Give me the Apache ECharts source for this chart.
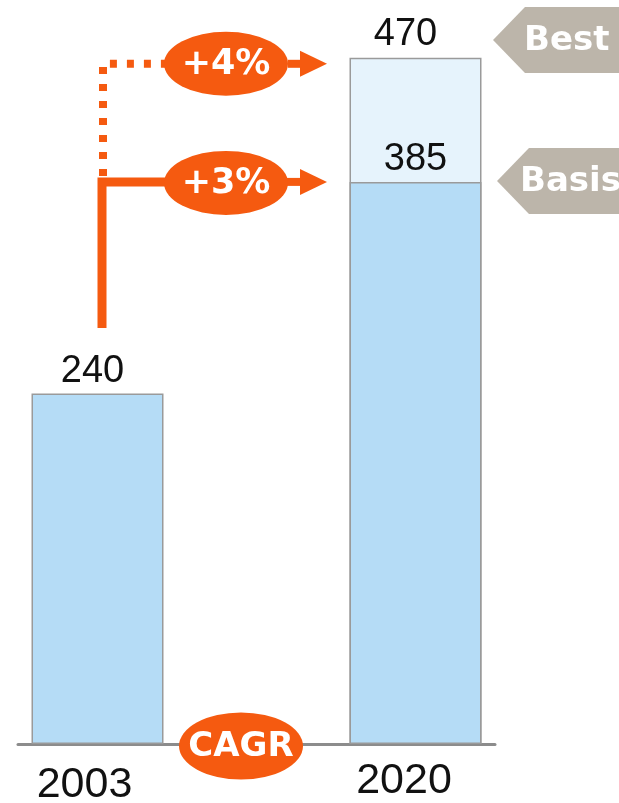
<!DOCTYPE html>
<html>
<head>
<meta charset="utf-8">
<title>CAGR 2003–2020</title>
<script src="https://cdn.jsdelivr.net/npm/echarts@6/dist/echarts.min.js"></script>
<style>
  html, body { margin: 0; padding: 0; background: #ffffff; }
  #chart { width: 619px; height: 803px; }
</style>
</head>
<body>
<div id="chart"></div>
<script>
// Years on the axis; the empty middle slot keeps the bars apart
const categories = ['2003', '', '2020'];
// Basis scenario values
const basisValues = [240, '-', 385];
// Best-case total
const bestValues = ['-', '-', 470];
// Growth rates (CAGR) shown in the arrows
const growthLabels = ['+4%', '+3%'];
const scenarioTags = ['Best', 'Basis'];

const ORANGE = '#f55a10';
const TAG = '#bcb5aa';
const NUM_FONT = 'Liberation Sans';
const BOLD_FONT = 'DejaVu Sans';

const chart = echarts.init(document.getElementById('chart'), null, { renderer: 'canvas' });

chart.setOption({
  animation: false,
  backgroundColor: '#ffffff',
  grid: { left: 18, right: 124, top: 14, bottom: 59, containLabel: false, outerBoundsMode: 'none' },
  xAxis: {
    type: 'category',
    data: categories,
    axisLine: { show: true, lineStyle: { color: '#8c8c8c', width: 3 } },
    axisTick: { show: false },
    axisLabel: {
      margin: 10,
      interval: 0,
      formatter: v => v === '2003' ? '{lo|' + v + '}' : (v ? '{hi|' + v + '}' : ''),
      rich: {
        lo: { fontFamily: NUM_FONT, fontSize: 43, color: '#111', padding: [10, 26, 0, 0] },
        hi: { fontFamily: NUM_FONT, fontSize: 43, color: '#111', padding: [6, 23, 0, 0] }
      }
    }
  },
  yAxis: { type: 'value', min: 0, max: 500, show: false, splitLine: { show: false } },
  series: [
    {
      name: 'Best',
      type: 'bar',
      data: bestValues,
      barWidth: 132,
      barGap: '-100%',
      itemStyle: { color: '#e6f3fc', borderColor: '#9a9a9a', borderWidth: 1.5 },
      label: {
        show: true, position: 'top', distance: 4, offset: [-10, 0],
        fontFamily: NUM_FONT, fontSize: 38, color: '#111'
      }
    },
    {
      name: 'Basis',
      type: 'bar',
      data: basisValues,
      barWidth: 132,
      barGap: '-100%',
      itemStyle: { color: '#b5dcf6', borderColor: '#9a9a9a', borderWidth: 1.5 },
      label: {
        show: true, position: 'top', distance: 3,
        fontFamily: NUM_FONT, fontSize: 38, color: '#111',
        formatter: p => String(p.value)
      },
      labelLayout: p => p.dataIndex === 0 ? { dx: -5 } : {}
    }
  ]
});

// Annotation layer: growth arrows, CAGR badge and scenario tags
const yBasis = chart.convertToPixel({ yAxisIndex: 0 }, 385);
const yBest = chart.convertToPixel({ yAxisIndex: 0 }, 470) + 6;
const yAxisLine = chart.convertToPixel({ yAxisIndex: 0 }, 0);

function ellipse(cx, cy, rx, ry, text, size, z) {
  return [
    {
      type: 'circle', x: cx, y: cy, scaleY: ry / rx, z: z,
      shape: { cx: 0, cy: 0, r: rx },
      style: { fill: ORANGE }
    },
    {
      type: 'text', x: cx, y: cy + 1, z: z + 1,
      style: {
        text: text, fill: '#fff', font: 'bold ' + size + 'px "' + BOLD_FONT + '"',
        align: 'center', verticalAlign: 'middle'
      }
    }
  ];
}

function arrowHead(x, y) {
  return {
    type: 'polygon', z: 20,
    shape: { points: [[x, y - 13], [x + 27, y], [x, y + 13]] },
    style: { fill: ORANGE }
  };
}

function tag(xTip, yc, text, tx) {
  return [
    {
      type: 'polygon', z: 20,
      shape: { points: [[xTip, yc], [xTip + 32, yc - 33], [640, yc - 33], [640, yc + 33], [xTip + 32, yc + 33]] },
      style: { fill: TAG }
    },
    {
      type: 'text', x: tx, y: yc + 1, z: 21,
      style: {
        text: text, fill: '#fff', font: 'bold 34px "' + BOLD_FONT + '"',
        align: 'left', verticalAlign: 'middle'
      }
    }
  ];
}

const graphics = [
  // dotted path to the best-case level
  {
    type: 'polyline', z: 10,
    shape: { points: [[103, yBasis - 6], [103, yBest], [170, yBest]] },
    style: { stroke: ORANGE, lineWidth: 8, lineDash: [7, 10], lineCap: 'butt', lineJoin: 'miter', fill: null }
  },
  {
    type: 'line', z: 10,
    shape: { x1: 288, y1: yBest, x2: 301, y2: yBest },
    style: { stroke: ORANGE, lineWidth: 8 }
  },
  arrowHead(300, yBest),
  // solid path to the basis level
  {
    type: 'polyline', z: 10,
    shape: { points: [[102, 328], [102, yBasis], [170, yBasis]] },
    style: { stroke: ORANGE, lineWidth: 9, lineJoin: 'miter', fill: null }
  },
  {
    type: 'line', z: 10,
    shape: { x1: 285, y1: yBasis, x2: 301, y2: yBasis },
    style: { stroke: ORANGE, lineWidth: 8 }
  },
  arrowHead(300, yBasis),
  ...ellipse(226, yBest, 62, 32, growthLabels[0], 35, 15),
  ...ellipse(226, yBasis + 1, 62, 32, growthLabels[1], 35, 15),
  ...ellipse(241, yAxisLine + 2, 62, 33.5, 'CAGR', 34, 15),
  ...tag(493, 40, scenarioTags[0], 524),
  ...tag(497, 181, scenarioTags[1], 520)
];

chart.setOption({ graphic: { elements: graphics } });
</script>
</body>
</html>
